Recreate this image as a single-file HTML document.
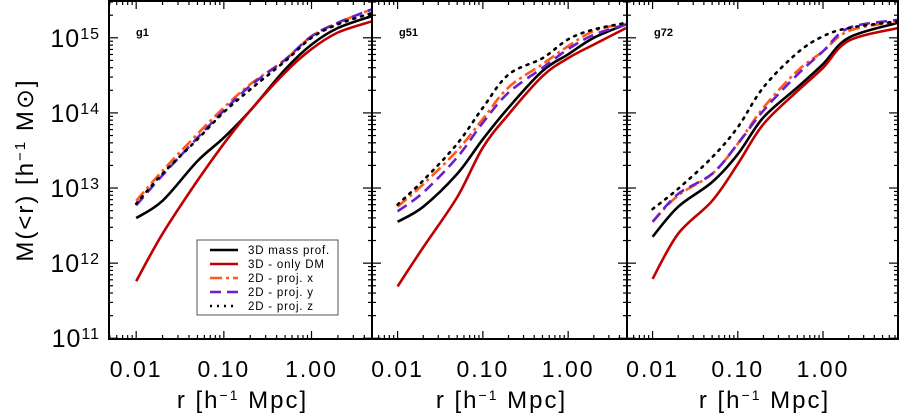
<!DOCTYPE html>
<html><head><meta charset="utf-8"><style>
html,body{margin:0;padding:0;background:#fff;}
svg{display:block;font-family:"Liberation Sans",sans-serif;}
</style></head><body>
<svg id="chart" width="899" height="417" viewBox="0 0 899 417" xmlns="http://www.w3.org/2000/svg">
<text transform="translate(33,170) rotate(-90)" text-anchor="middle" font-size="24" letter-spacing="2">M(&lt;r) [h<tspan baseline-shift="super" font-size="15">−1</tspan> M<tspan>⊙</tspan>]</text>
</svg>
<script>
const xSamples = [-2, -1.7, -1.3, -1, -0.7, -0.3, 0, 0.3];
const panelNames = ["g1", "g51", "g72"];
const panelLastX = [0.69, 0.68, 0.88];
const seriesNames = ["3D mass prof.", "3D - only DM", "2D - proj. x", "2D - proj. y", "2D - proj. z"];
const p1Black  = [12.60,12.83,13.36,13.67,14.03,14.58,14.91,15.13,15.29];
const p1Red    = [11.76,12.39,13.10,13.59,14.03,14.54,14.85,15.07,15.22];
const p1Orange = [12.83,13.23,13.72,14.07,14.38,14.71,15.02,15.20,15.38];
const p1Purple = [12.77,13.17,13.67,14.03,14.36,14.71,15.02,15.20,15.38];
const p1Dotted = [12.79,13.19,13.65,14.01,14.31,14.69,15.00,15.18,15.33];
const p2Black  = [12.55,12.75,13.19,13.65,14.07,14.56,14.78,15.00,15.18];
const p2Red    = [11.69,12.21,12.88,13.54,13.98,14.49,14.73,14.91,15.13];
const p2Orange = [12.75,13.05,13.50,13.92,14.34,14.65,14.89,15.09,15.20];
const p2Purple = [12.69,12.94,13.41,13.87,14.27,14.60,14.85,15.04,15.18];
const p2Dotted = [12.78,13.10,13.59,14.07,14.51,14.73,14.98,15.11,15.20];
const p3Black  = [12.35,12.75,13.08,13.45,13.94,14.34,14.65,15.00,15.20];
const p3Red    = [11.79,12.39,12.83,13.32,13.85,14.29,14.60,14.96,15.13];
const p3Orange = [12.55,12.90,13.19,13.59,14.07,14.56,14.82,15.09,15.22];
const p3Purple = [12.55,12.92,13.19,13.59,14.03,14.51,14.82,15.13,15.24];
const p3Dotted = [12.72,12.99,13.41,13.81,14.34,14.80,15.02,15.13,15.22];
const xTickLabels = ["0.01", "0.10", "1.00"];
const yTickExps = [11, 12, 13, 14, 15];

const NS = "http://www.w3.org/2000/svg";
const svg = document.getElementById("chart");
function mk(tag, attrs, parent) { const e = document.createElementNS(NS, tag); for (const k in attrs) e.setAttribute(k, attrs[k]); (parent || svg).appendChild(e); return e; }

const panels = [
  { x0: 109, x1: 372, lo: -2.31, hi: 0.69, data: [p1Black, p1Red, p1Orange, p1Purple, p1Dotted] },
  { x0: 372, x1: 627, lo: -2.30, hi: 0.69, data: [p2Black, p2Red, p2Orange, p2Purple, p2Dotted] },
  { x0: 627, x1: 898, lo: -2.30, hi: 0.88, data: [p3Black, p3Red, p3Orange, p3Purple, p3Dotted] }
];
const yTop = 1, yBot = 339, yLo = 10.99, yHi = 15.49;
function ys(v) { return yBot - (v - yLo) / (yHi - yLo) * (yBot - yTop); }
const styles = [
  { stroke: "#000", dash: "" },
  { stroke: "#c00000", dash: "" },
  { stroke: "#ff5a1a", dash: "12 4 3 4" },
  { stroke: "#6a1fd0", dash: "11 6" },
  { stroke: "#000", dash: "2 6" }
];
function pathFrom(pts) {
  let d = "M" + pts[0][0].toFixed(1) + "," + pts[0][1].toFixed(1);
  for (let i = 0; i < pts.length - 1; i++) {
    const p0 = pts[Math.max(i - 1, 0)], p1 = pts[i], p2 = pts[i + 1], p3 = pts[Math.min(i + 2, pts.length - 1)];
    const c1 = [p1[0] + (p2[0] - p0[0]) / 6, p1[1] + (p2[1] - p0[1]) / 6];
    const c2 = [p2[0] - (p3[0] - p1[0]) / 6, p2[1] - (p3[1] - p1[1]) / 6];
    d += "C" + c1[0].toFixed(1) + "," + c1[1].toFixed(1) + " " + c2[0].toFixed(1) + "," + c2[1].toFixed(1) + " " + p2[0].toFixed(1) + "," + p2[1].toFixed(1);
  }
  return d;
}

panels.forEach((p, pi) => {
  const xs = v => p.x0 + (v - p.lo) / (p.hi - p.lo) * (p.x1 - p.x0);
  const g = mk("g", {});
  
  
  const xv = xSamples.concat([panelLastX[pi]]);
  p.data.forEach((arr, si) => {
    const pts = arr.map((v, i) => [xs(xv[i]), ys(v)]);
    const st = styles[si];
    const path = mk("path", { d: pathFrom(pts), fill: "none", stroke: st.stroke, "stroke-width": 2.6, "stroke-dasharray": st.dash, "stroke-linecap": si === 4 ? "round" : "butt" }, g);
    
    
  });
  const frame = mk("rect", { x: p.x0, y: yTop, width: p.x1 - p.x0, height: yBot - yTop, fill: "none", stroke: "#000", "stroke-width": 2 }, g);
  
  
  for (let dec = -3; dec <= 0; dec++) {
    for (let m = 1; m <= 9; m++) {
      const lv = dec + Math.log10(m);
      if (lv < p.lo || lv > p.hi) continue;
      const x = xs(lv), len = m === 1 ? 8 : 4;
      mk("line", { x1: x, x2: x, y1: yBot, y2: yBot - len, stroke: "#000", "stroke-width": 1.2 }, g);
      mk("line", { x1: x, x2: x, y1: yTop, y2: yTop + len, stroke: "#000", "stroke-width": 1.2 }, g);
    }
  }
  xTickLabels.forEach((lab, i) => {
    const t = mk("text", { x: xs(-2 + i), y: 377, "text-anchor": "middle", "font-size": 23, "letter-spacing": 2 }, g);
    t.textContent = lab;
    
    
  });
  const xt = mk("text", { x: (p.x0 + p.x1) / 2 + 2, y: 408, "text-anchor": "middle", "font-size": 24, "letter-spacing": 2 }, g);
  xt.innerHTML = 'r [h<tspan baseline-shift="super" font-size="14">−1</tspan> Mpc]';
  
  
  for (let dec = 10; dec <= 15; dec++) {
    for (let m = 1; m <= 9; m++) {
      const lv = dec + Math.log10(m);
      if (lv < yLo || lv > yHi) continue;
      const y = ys(lv), len = m === 1 ? 9 : 4;
      mk("line", { x1: p.x0, x2: p.x0 + len, y1: y, y2: y, stroke: "#000", "stroke-width": 1.2 }, g);
      mk("line", { x1: p.x1, x2: p.x1 - len, y1: y, y2: y, stroke: "#000", "stroke-width": 1.2 }, g);
    }
  }
  const lab = mk("text", { x: p.x0 + 27, y: 36, "font-size": 11, "font-weight": "bold" }, g);
  lab.textContent = panelNames[pi];
  
  
});

yTickExps.forEach(e => {
  const t = mk("text", { x: 100, y: ys(e) + 9, "text-anchor": "end", "font-size": 25, "letter-spacing": 1 });
  t.innerHTML = '10<tspan baseline-shift="super" font-size="16">' + e + '</tspan>';
  
  
});

const lg = mk("g", {});


mk("rect", { x: 197, y: 240, width: 141, height: 75, fill: "#fff", stroke: "#555", "stroke-width": 1 }, lg);
seriesNames.forEach((n, i) => {
  const y = 250 + i * 14;
  const st = styles[i];
  const ln = mk("line", { x1: 210, x2: 238, y1: y, y2: y, stroke: st.stroke, "stroke-width": 2.6, "stroke-dasharray": st.dash === "2 6" ? "2 5" : st.dash }, lg);
  
  
  const t = mk("text", { x: 248, y: y + 4, "font-size": 11.5, "letter-spacing": 0.8 }, lg);
  t.textContent = n;
  
  
});
</script>
</body></html>
